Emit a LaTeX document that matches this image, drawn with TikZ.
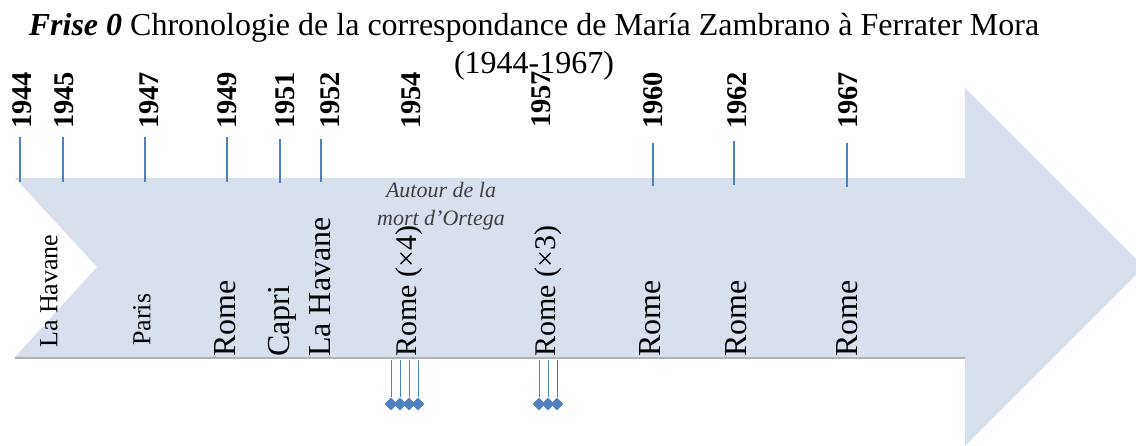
\documentclass[tikz,border=0pt]{standalone}
\usepackage{fontspec}
\setmainfont{Liberation Serif}
\usepackage{tikz}
\usetikzlibrary{shapes.geometric,positioning}
\definecolor{friseblue}{RGB}{79,129,189}
\definecolor{frisefill}{RGB}{216,223,237}
\tikzset{year/.style={rotate=90, anchor=west, inner sep=0pt, font=\fontsize{28.5}{30}\selectfont\bfseries},
yeartick/.style={draw=friseblue, line width=1.6pt},
city/.style={rotate=90, anchor=west, inner sep=0pt, font=\fontsize{32}{36}\selectfont},
smallcity/.style={city, font=\fontsize{26}{30}\selectfont},
note/.style={anchor=base, inner sep=0pt, text=black!75, font=\fontsize{22}{26}\selectfont\itshape},
letter/.style={diamond, fill=friseblue, inner sep=0pt, minimum width=13pt, minimum height=13pt},
letterline/.style={draw=friseblue, line width=0.7pt}}

\begin{document}
\begin{tikzpicture}[x=1pt, y=-1pt]
\useasboundingbox (0,0) rectangle (1136,446);

% the arrow
\fill[frisefill] (15,178) -- (965,178) -- (965,88) -- (1144,267) -- (965,446) -- (965,357) -- (15,357) -- (97,267) -- cycle;
\draw[black!30, line width=2pt] (15,358) -- (965,358);

% title
\node[anchor=base, inner sep=0pt, font=\fontsize{32}{36}\selectfont] (title) at (534,36) {\textbf{\textit{Frise 0}} Chronologie de la correspondance de María Zambrano à Ferrater Mora};
\node[anchor=base, inner sep=0pt, font=\fontsize{32}{36}\selectfont] (dates) at (534,74) {(1944-1967)};

% years and ticks
\foreach \yr/\xl/\xt/\ta/\tb in {1944/22/20/137/182, 1945/64/63/137/182, 1947/149/145/137/182,
  1949/227/227/137/182, 1951/285/280/139/183, 1952/330/321/139/182,
  1960/653/653/143/186, 1962/737/734/141/185, 1967/848/847/143/187}{
  \node[year] (y\yr) at (\xl,129) {\yr};
  \coordinate (t\yr) at (\xt,\ta);
  \coordinate (b\yr) at (\xt,\tb);
  \draw[yeartick] (t\yr) -- (b\yr);
}
\node[year] (y1954) at (411,129) {1954};
\node[year] (y1957) at (541,128) {1957};

% places
\node[smallcity] (havane44) at (49,348) {La Havane};
\node[smallcity] (paris) at (142,346) {Paris};
\node[city] (rome49) at (225,357) {Rome};
\node[city] (capri) at (282,357) {Capri};
\node[city] (havane52) at (320,357) {La Havane};
\node[city, font=\fontsize{30}{34}\selectfont] (rome54) at (409,357) {Rome (×4)};
\node[city, font=\fontsize{30}{34}\selectfont] (rome57) at (548,357) {Rome (×3)};
\node[city] (rome60) at (650,357) {Rome};
\node[city] (rome62) at (736,357) {Rome};
\node[city] (rome67) at (847,357) {Rome};

\node[note] (ortega) at (441,198) {Autour de la};
\node[note] (ortega2) at (441,226) {mort d'Ortega};

% letters
\foreach \i/\x in {1/391,2/400,3/409,4/418}{
  \coordinate (r54top\i) at (\x,360);
  \node[letter] (r54d\i) at (\x,404) {};
  \draw[letterline] (r54top\i) -- (r54d\i);
}
\foreach \i/\x in {1/539,2/548,3/557}{
  \coordinate (r57top\i) at (\x,360);
  \node[letter] (r57d\i) at (\x,404) {};
  \draw[letterline] (r57top\i) -- (r57d\i);
}

\end{tikzpicture}
\end{document}
